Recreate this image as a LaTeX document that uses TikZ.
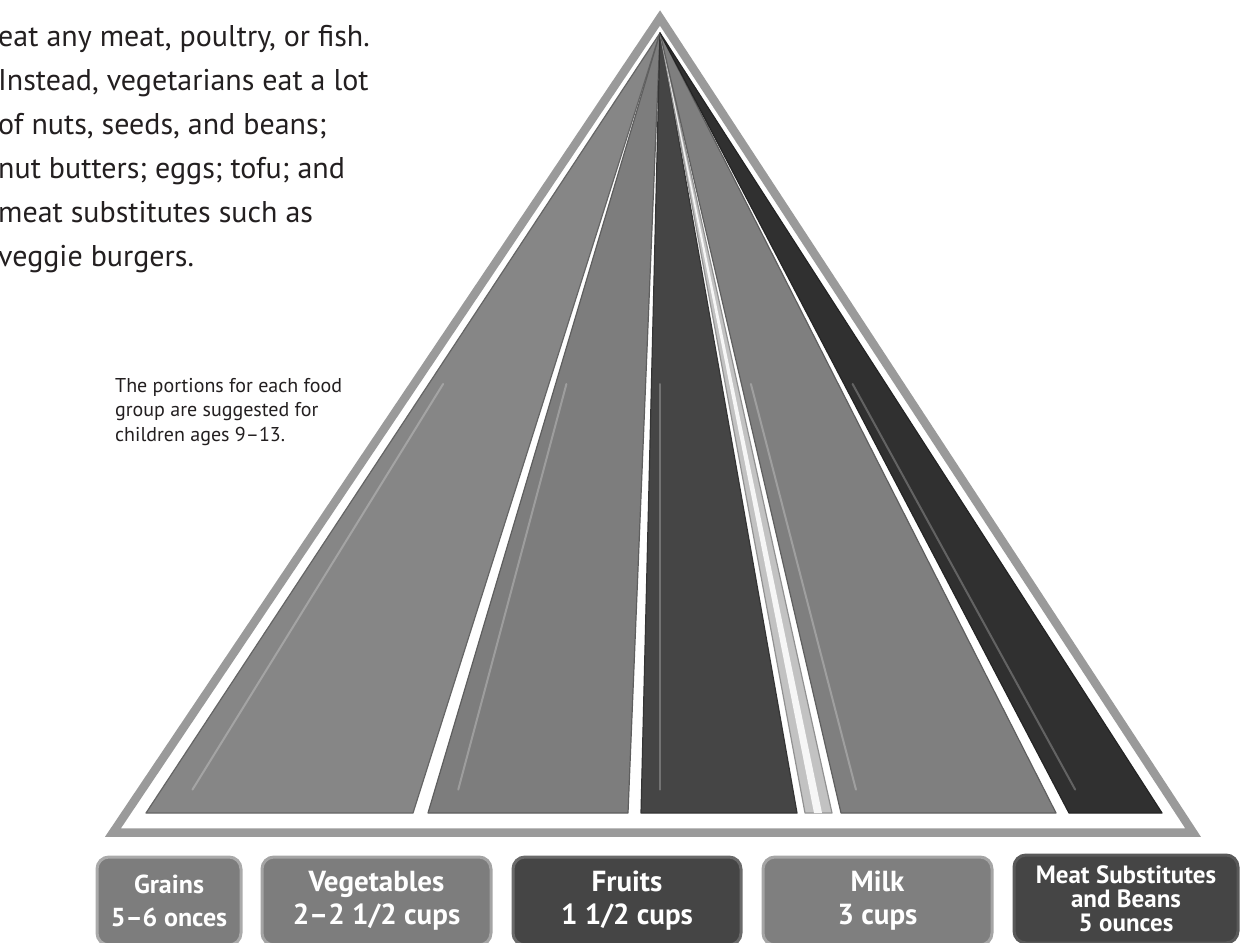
\documentclass[tikz,border=0pt]{standalone}
\usepackage{fontspec}
\setmainfont{PT Sans}
\usetikzlibrary{calc}
\definecolor{inkblack}{HTML}{231F20}
\definecolor{bandgray}{HTML}{9A9A9A}
\definecolor{grainsgray}{HTML}{868686}
\definecolor{veggray}{HTML}{7D7D7D}
\definecolor{fruitgray}{HTML}{454545}
\definecolor{oilgray}{HTML}{C2C2C2}
\definecolor{milkgray}{HTML}{7F7F7F}
\definecolor{meatgray}{HTML}{303030}
\tikzset{
  band/.style={draw=bandgray, line width=8.5pt, line join=miter},
  stripe/.style={fill=#1, draw=#1!75!black, line width=1.2pt, line join=round},
  streak/.style={draw=white, opacity=.25, line width=2pt, line cap=round},
  foodbox/.style={rounded corners=12pt, minimum height=88pt, inner sep=0pt,
    line width=3pt, text=white, align=center,
    font=\fontsize{29}{33}\selectfont\bfseries},
}
\begin{document}
\begin{tikzpicture}[x=1pt,y=-1pt]
\useasboundingbox (0,0) rectangle (1241,942);
\node (story) [anchor=north west, align=left, inner sep=0pt, text=inkblack,
  font=\fontsize{30}{44}\selectfont] at (-2,25) {eat any meat, poultry, or fish.\\
  Instead, vegetarians eat a lot\\
  of nuts, seeds, and beans;\\
  nut butters; eggs; tofu; and\\
  meat substitutes such as\\
  veggie burgers.};
\node (note) [anchor=north west, align=left, inner sep=0pt, text=inkblack,
  font=\fontsize{20}{24.5}\selectfont] at (115,378) {The portions for each food\\
  group are suggested for\\
  children ages 9–13.};
\coordinate (peak) at (660,33);
\draw [band] (660,18) -- (113,832.5) -- (1193,832.5) -- cycle;
\draw [stripe=grainsgray] (peak) -- (146,813) -- (413,813) -- cycle;
\draw [stripe=veggray] (peak) -- (428,813) -- (628,813) -- cycle;
\draw [stripe=fruitgray] (peak) -- (641,813) -- (797,813) -- cycle;
\draw [stripe=oilgray] (peak) -- (805,813) -- (832,813) -- cycle;
\fill [white!85!oilgray] (peak) -- (814,813) -- (822,813) -- cycle;
\draw [stripe=milkgray] (peak) -- (841,813) -- (1056,813) -- cycle;
\draw [stripe=meatgray] (peak) -- (1069,813) -- (1162,813) -- cycle;
\foreach \x in {178,452,660,862,1088}
  \draw [streak] ($(peak)!.45!(\x,813)$) -- ($(peak)!.97!(\x,813)$);
\node (grains) [foodbox, fill=grainsgray!93!black, draw=grainsgray!70!white, minimum width=144pt,
  font=\fontsize{26}{33}\selectfont\bfseries] at (169,901) {Grains\\5–6 onces};
\node (vegetables) [foodbox, fill=veggray, draw=veggray!70!white, minimum width=229pt] at (376.5,901) {Vegetables\\2–2 1/2 cups};
\node (fruits) [foodbox, fill=fruitgray, draw=fruitgray!80!white, minimum width=228pt] at (627,901) {Fruits\\1 1/2 cups};
\node (milk) [foodbox, fill=milkgray, draw=milkgray!70!white, minimum width=229pt] at (877.5,901) {Milk\\3 cups};
\node (meat) [foodbox, fill=meatgray!90!white, draw=meatgray!80!white, minimum width=224pt,
  font=\fontsize{25}{24}\selectfont\bfseries] at (1126,899) {Meat Substitutes\\and Beans\\5 ounces};
\end{tikzpicture}
\end{document}
